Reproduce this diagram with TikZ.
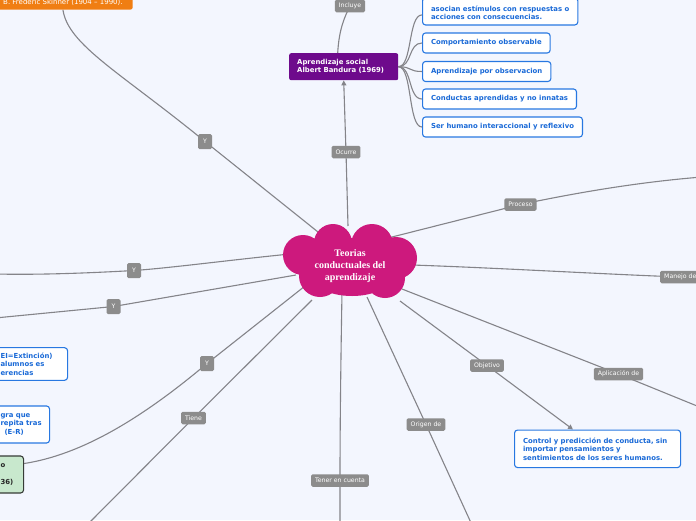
\documentclass[tikz,border=0pt]{standalone}
\usepackage{fontspec}
\setmainfont{DejaVu Sans}
\newfontfamily\cloudfont{Liberation Serif}
\usetikzlibrary{arrows.meta}
\definecolor{bgc}{RGB}{243,246,254}
\definecolor{lineg}{RGB}{132,132,137}
\definecolor{lblg}{RGB}{140,140,140}
\definecolor{bblue}{RGB}{40,120,225}
\definecolor{btext}{RGB}{25,105,215}
\definecolor{orng}{RGB}{240,126,18}
\definecolor{purp}{RGB}{110,10,140}
\definecolor{cloudc}{RGB}{205,25,125}
\definecolor{gfill}{RGB}{200,232,205}
\definecolor{gdraw}{RGB}{55,60,55}
\pgfdeclarelayer{back}
\pgfdeclarelayer{bg}
\pgfsetlayers{back,bg,main}
\begin{document}
\begin{tikzpicture}[x=1pt,y=-1pt,
  conn/.style={draw=lineg, line width=1.1pt},
  tip/.style={-{Triangle[length=5pt,width=5pt]}},
  lbl/.style={fill=lblg, text=white, font=\fontsize{6.2}{7}\selectfont, rounded corners=1.5pt, inner xsep=4pt, inner ysep=0pt, minimum height=12.5pt},
  ylbl/.style={lbl, minimum width=14pt, minimum height=15pt, inner xsep=0pt},
  bbox/.style={draw=bblue, line width=1.1pt, fill=white, rounded corners=3pt, text=btext, font=\fontsize{6.9}{8.5}\selectfont\bfseries, align=left, inner xsep=8.5pt, inner ysep=5pt},
  gbox/.style={draw=gdraw, line width=1.1pt, fill=gfill, rounded corners=3pt, text=black!85, font=\fontsize{6.9}{8.5}\selectfont\bfseries, align=left, inner xsep=9pt, inner ysep=5pt},
  obox/.style={fill=orng, text=white, font=\fontsize{7}{8.5}\selectfont, rounded corners=2pt, inner xsep=10pt, minimum height=14pt},
  pbox/.style={fill=purp, text=white, font=\fontsize{6.9}{8}\selectfont\bfseries, rounded corners=2pt, inner xsep=8pt, text width=93pt, align=left, minimum height=27pt},
  cloudtxt/.style={text=white, font=\cloudfont\bfseries\fontsize{10}{12}\selectfont, align=center}
  ]
\useasboundingbox (0,0) rectangle (696,520);
\clip (0,0) rectangle (696,520);
\begin{pgfonlayer}{back}
\fill[bgc] (0,0) rectangle (696,520);
\end{pgfonlayer}

% cloud
\fill[cloudc] (333,243) circle (19pt) (372,245) circle (21pt) (303,255) circle (20pt)
  (396,258) circle (21pt) (320,276) circle (21pt) (385,278) circle (20pt) (350,265) circle (27pt)
  (352,274) ellipse (42pt and 22pt);
\node[cloudtxt] (cloud) at (350,266.5) {Teorias\\conductuales del\\aprendizaje};
\coordinate (cSk) at (318,232);
\coordinate (cOc) at (348,226);
\coordinate (cPr) at (388,238);
\coordinate (cMa) at (412,265);
\coordinate (cAp) at (402,289);
\coordinate (cOb) at (400,301);
\coordinate (cOr) at (367,297);
\coordinate (cTe) at (342,292);
\coordinate (cTi) at (312,300);
\coordinate (cY3) at (305,286);
\coordinate (cY1) at (290,254);
\coordinate (cY2) at (296,275);

% off-picture ends
\coordinate (tInc) at (352,-12);
\coordinate (tPr) at (702,177);
\coordinate (tAp) at (702,408);
\coordinate (tOr) at (472,525);
\coordinate (tTe) at (340,525);
\coordinate (tTi) at (88,524);
\coordinate (tY1) at (-5,274);
\coordinate (tY2) at (-5,318);

% nodes
\node[obox, anchor=west] (sk) at (-7,2.5) {B. Frederic Skinner (1904 – 1990).};
\node[pbox, anchor=north west] (pur) at (289,53) {Aprendizaje social\\Albert Bandura (1969)};
\node[bbox, anchor=south west] (b1) at (422,25.5) {\mbox{}\\asocian estímulos con respuestas o\\acciones con consecuencias.};
\node[bbox, anchor=west, minimum height=20pt] (b2) at (422,43) {Comportamiento observable};
\node[bbox, anchor=west, minimum height=20pt] (b3) at (422,71.5) {Aprendizaje por observacion};
\node[bbox, anchor=west, minimum height=20pt] (b4) at (422,99) {Conductas aprendidas y no innatas};
\node[bbox, anchor=west, minimum height=20pt] (b5) at (422,127) {Ser humano interaccional y reflexivo};
\node[bbox, anchor=north west, text width=149pt, minimum height=37.5pt] (bob) at (514,429.5) {Control y predicción de conducta, sin\\importar pensamientos y\\sentimientos de los seres humanos.};
\node[bbox, anchor=west, text width=58pt, inner xsep=9pt] (lb1) at (-9,364) {EI=Extinción)\\alumnos es\\erencias};
\node[bbox, anchor=west, text width=40pt, inner xsep=9pt, minimum height=37pt] (lb2) at (-9,424.5) {gra que\\\mbox{repita tras}\\\hspace*{4pt}(E-R)};
\node[gbox, anchor=west, text width=14pt, minimum height=37pt] (gr) at (-9,474.5) {o\\\mbox{}\\36)};

% labels
\node[lbl] (lInc) at (350,6) {Incluye};
\node[lbl] (lOc) at (346,152) {Ocurre};
\node[lbl] (lPr) at (520.5,204.5) {Proceso};
\node[lbl, anchor=west] (lMa) at (660,277) {Manejo de};
\node[lbl] (lAp) at (618.5,374) {Aplicación de};
\node[lbl] (lOb) at (487,365.5) {Objetivo};
\node[lbl] (lOr) at (426,424.5) {Origen de};
\node[lbl] (lTe) at (340,480.5) {Tener en cuenta};
\node[lbl] (lTi) at (193.5,418) {Tiene};
\node[ylbl] (ly0) at (205,141.5) {Y};
\node[ylbl] (ly1) at (134,270.5) {Y};
\node[ylbl] (ly2) at (113.5,306.5) {Y};
\node[ylbl] (ly3) at (207,363.5) {Y};

\begin{pgfonlayer}{bg}
\draw[conn] (sk.south) .. controls (68,45) and (120,72) .. (ly0.center) -- (cSk);
\draw[conn, tip] (cOc) -- (lOc.center) -- (pur.south);
\draw[conn] ([xshift=-6pt]pur.north) .. controls (339,30) and (344,18) .. (lInc.center) -- (tInc);
\draw[conn] (pur.east) .. controls +(14,0) and +(-14,0) .. ([yshift=-3.5pt]b1.west);
\draw[conn] (pur.east) .. controls +(14,0) and +(-14,0) .. (b2.west);
\draw[conn] (pur.east) .. controls +(14,0) and +(-14,0) .. (b3.west);
\draw[conn] (pur.east) .. controls +(14,0) and +(-14,0) .. (b4.west);
\draw[conn] (pur.east) .. controls +(14,0) and +(-14,0) .. (b5.west);
\draw[conn] (cPr) -- (lPr.center) .. controls (580,192) and (640,182) .. (tPr);
\draw[conn] (cMa) .. controls (500,268) and (600,274) .. (lMa.center);
\draw[conn] (cAp) -- (lAp.center) -- (tAp);
\draw[conn, tip] (cOb) -- (lOb.center) -- ([xshift=59pt]bob.north west);
\draw[conn] (cOr) -- (lOr.center) -- (tOr);
\draw[conn] (cTe) .. controls (341,350) and (340,420) .. (lTe.center) -- (tTe);
\draw[conn] (cTi) -- (lTi.center) -- (tTi);
\draw[conn] (cY3) -- (ly3.center) .. controls (140,420) and (80,455) .. ([yshift=11pt]gr.east);
\draw[conn] (cY1) .. controls (230,260) and (170,268) .. (ly1.center) .. controls (90,273) and (40,275) .. (tY1);
\draw[conn] (cY2) -- (ly2.center) -- (tY2);
\end{pgfonlayer}
\end{tikzpicture}
\end{document}
